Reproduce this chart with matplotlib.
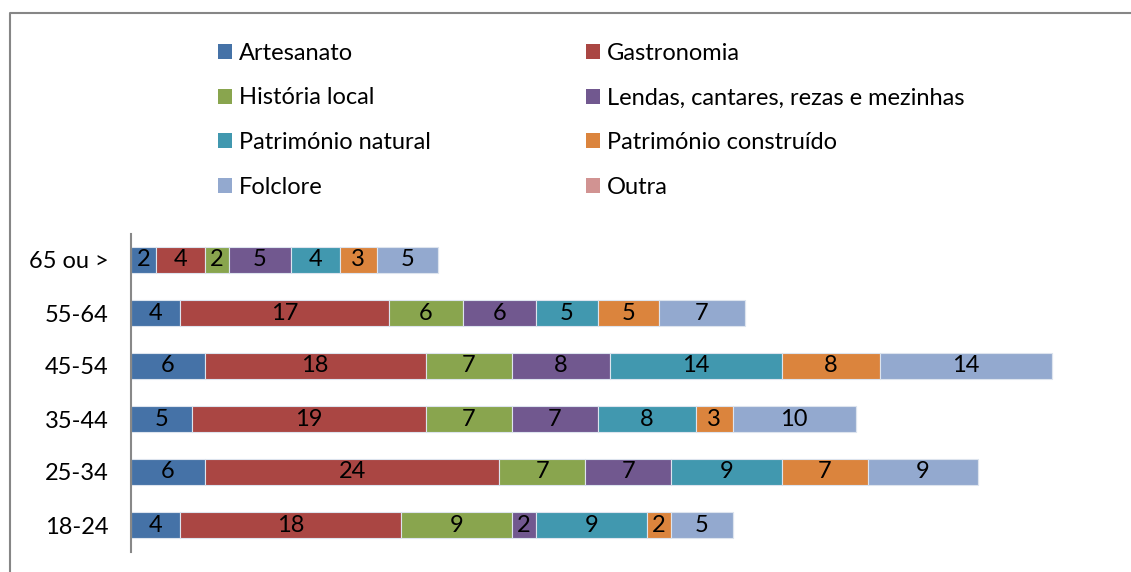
import numpy as np
import matplotlib.pyplot as plt
from matplotlib.lines import Line2D
from matplotlib.patches import Patch

plt.rcParams['font.family'] = ['Lato', 'DejaVu Sans']

grupos = ["18-24", "25-34", "35-44", "45-54", "55-64", "65 ou >"]
series = ["Artesanato", "Gastronomia", "História local",
          "Lendas, cantares, rezas e mezinhas", "Património natural",
          "Património construído", "Folclore", "Outra"]
artesanato = [4, 6, 5, 6, 4, 2]
gastronomia = [18, 24, 19, 18, 17, 4]
historia = [9, 7, 7, 7, 6, 2]
lendas = [2, 7, 7, 8, 6, 5]
pat_natural = [9, 9, 8, 14, 5, 4]
pat_construido = [2, 7, 3, 8, 5, 3]
folclore = [5, 9, 10, 14, 7, 5]
outra = [0, 0, 0, 0, 0, 0]
valores = [artesanato, gastronomia, historia, lendas, pat_natural,
           pat_construido, folclore, outra]
cores = ["#4572A7", "#AA4643", "#89A54E", "#71588F", "#4198AF",
         "#DB843D", "#93A9CF", "#D19392"]

fig = plt.figure(figsize=(11.31, 5.72), dpi=100)
ax = fig.add_axes([131 / 1131, 20.5 / 572, 982.4 / 1131, 318 / 572])

y = np.arange(len(grupos))
left = np.zeros(len(grupos))
for nome, v, c in zip(series, valores, cores):
    v = np.array(v)
    bars = ax.barh(y, v, left=left, height=0.5, color=c,
                   edgecolor="#dde4ee", linewidth=0.8, label=nome)
    ax.bar_label(bars, labels=[str(x) if x > 0 else "" for x in v],
                 label_type="center", fontsize=17, color="black")
    left += v

ax.set_xlim(0, 80)
ax.set_ylim(-0.5, len(grupos) - 0.5)
ax.set_yticks(y)
ax.set_yticklabels(grupos, fontsize=17)
ax.tick_params(axis="y", length=0, pad=16)
ax.set_xticks([])
for s in ["top", "right", "bottom"]:
    ax.spines[s].set_visible(False)
ax.spines["left"].set_color("#888888")
ax.spines["left"].set_linewidth(1.5)

# legend: two columns placed like Excel
handles = [Patch(facecolor=c, edgecolor="none") for c in cores]
kw = dict(frameon=False, fontsize=17, handlelength=0.6, handleheight=0.6,
          handletextpad=0.3, labelspacing=1.0, borderpad=0, loc="upper left")
fig.legend(handles[0::2], series[0::2],
           bbox_to_anchor=(206 / 1131, 1 - 31 / 572), **kw)
fig.legend(handles[1::2], series[1::2],
           bbox_to_anchor=(574 / 1131, 1 - 31 / 572), **kw)

# chart border (left and top visible)
bx = 9.5 / 1131
by = 1 - 13 / 572
fig.add_artist(Line2D([bx, bx, 1], [0, by, by], transform=fig.transFigure,
                      color="#868686", linewidth=1.5))

fig.savefig("out.png", dpi=100)
